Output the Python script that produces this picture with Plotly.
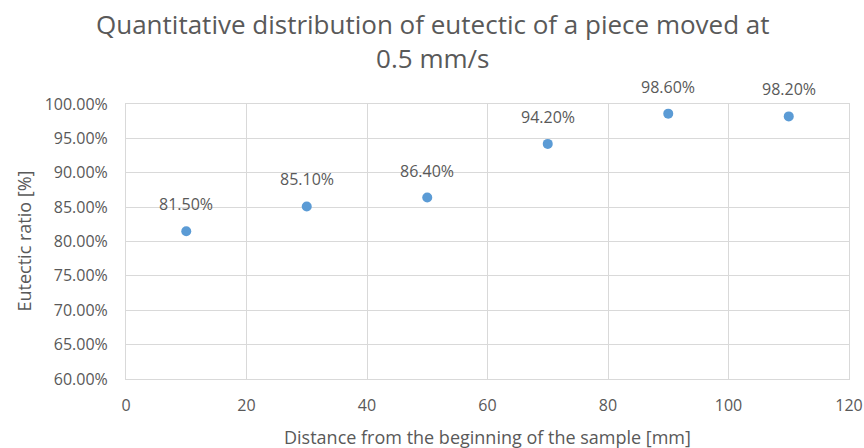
import plotly.graph_objects as go

distance_mm = [10, 30, 50, 70, 90, 110]
eutectic_ratio = [0.815, 0.851, 0.864, 0.942, 0.986, 0.982]
labels = ["81.50%", "85.10%", "86.40%", "94.20%", "98.60%", "98.20%"]

title_text = "Quantitative distribution of eutectic of a piece moved at<br>0.5 mm/s"
x_title = "Distance from the beginning of the sample [mm]"
y_title = "Eutectic ratio [%]"

font_family = "Open Sans, Lato, sans-serif"
grey = "#595959"
grid = "#D9D9D9"

fig = go.Figure()
fig.add_trace(go.Scatter(
    x=distance_mm, y=eutectic_ratio, mode="markers",
    marker=dict(size=10, color="#5B9BD5"),
    hoverinfo="skip", showlegend=False,
))

for x, y, t in zip(distance_mm, eutectic_ratio, labels):
    fig.add_annotation(x=x, y=y, text=t, showarrow=False, yshift=27,
                       font=dict(family=font_family, size=16, color=grey))

# chart title
fig.add_annotation(xref="paper", yref="paper", x=0.5, y=1, xshift=-55,
                   xanchor="center", yanchor="bottom", yshift=26,
                   text=title_text, showarrow=False,
                   font=dict(family=font_family, size=26, color=grey))
# axis titles
fig.add_annotation(xref="paper", yref="paper", x=0.5, y=0, yanchor="middle",
                   yshift=-58, text=x_title, showarrow=False,
                   font=dict(family=font_family, size=18, color=grey))
fig.add_annotation(xref="paper", yref="paper", x=0, y=0.5, xanchor="center",
                   yanchor="middle", xshift=-103, textangle=-90, text=y_title,
                   showarrow=False, font=dict(family=font_family, size=18, color=grey))

fig.update_layout(
    width=864, height=448,
    margin=dict(l=126, r=15, t=104, b=69),
    paper_bgcolor="white", plot_bgcolor="white",
    xaxis=dict(range=[0, 120], dtick=20, tick0=0, showgrid=True, gridcolor=grid,
               showline=True, linecolor=grid, mirror=True, zeroline=False,
               ticks="", ticklabelstandoff=12, automargin=False,
               tickfont=dict(family=font_family, size=16, color=grey)),
    yaxis=dict(range=[0.6, 1.0], dtick=0.05, tick0=0.6, tickformat=".2%",
               showgrid=True, gridcolor=grid, showline=True, linecolor=grid, mirror=True,
               zeroline=False, ticks="", ticklabelstandoff=14, automargin=False,
               tickfont=dict(family=font_family, size=16, color=grey)),
)

fig.write_html("out.html")
